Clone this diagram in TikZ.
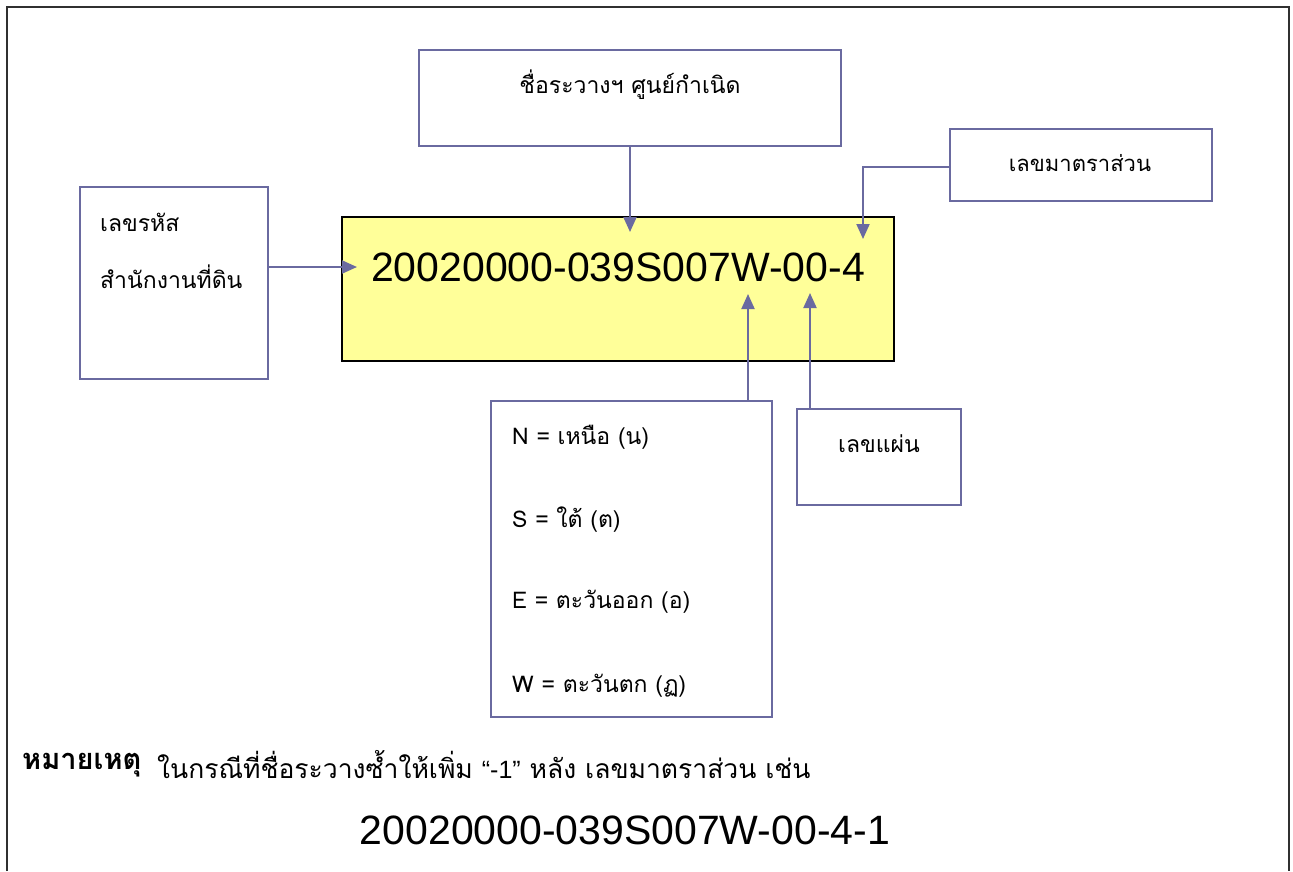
\documentclass[tikz,border=0pt]{standalone}
\usepackage{fontspec}
\setmainfont{Liberation Sans}
\newfontfamily\thaifont[Script=Thai]{Loma}
\usetikzlibrary{arrows.meta}
\definecolor{boxline}{HTML}{6A6AA0}
\definecolor{yell}{HTML}{FFFF99}
\definecolor{frame}{HTML}{303030}
\tikzset{
  box/.style={draw=boxline, line width=2pt, fill=white, inner sep=0pt},
  mainbox/.style={draw=black, line width=1.6pt, fill=yell, inner sep=0pt},
  conn/.style={draw=boxline, line width=2pt, -{Triangle[length=15pt,width=13pt]}},
  th/.style={font=\thaifont\fontsize{23}{27}\selectfont, inner sep=0pt},
  note/.style={font=\thaifont\fontsize{26.5}{30}\selectfont, inner sep=0pt},
  num/.style={font=\fontsize{41}{48}\selectfont, inner sep=0pt}
}
\begin{document}
\begin{tikzpicture}[x=1pt,y=-1pt]
\useasboundingbox (0,0) rectangle (1293,871);
\draw[frame, line width=2.5pt] (7,871) -- (7,7) -- (1289,7) -- (1289,871);

\node[box, minimum width=422pt, minimum height=96pt] (top) at (630,98) {};
\node[box, minimum width=262pt, minimum height=72pt] (scale) at (1081,165) {};
\node[box, minimum width=188pt, minimum height=192pt] (code) at (174,283) {};
\node[mainbox, minimum width=552pt, minimum height=144pt] (main) at (618,289) {};
\node[box, minimum width=281pt, minimum height=316pt] (dir) at (631.5,559) {};
\node[box, minimum width=164pt, minimum height=96pt] (sheet) at (879,457) {};

\node[th] (toptxt) at (630,85) {ชื่อระวางฯ ศูนย์กำเนิด};
\node[th, font=\thaifont\fontsize{22}{26}\selectfont] (scaletxt) at (1080,163) {เลขมาตราส่วน};
\node[th, anchor=west] (code1) at (100,222) {เลขรหัส};
\node[th, anchor=west] (code2) at (100,277) {สำนักงานที่ดิน};
\node[num] (mainnum) at (618,267) {20020000-039S007W-00-4};
\node[th, anchor=west] (dN) at (512,437) {N = เหนือ (น)};
\node[th, anchor=west] (dS) at (512,520) {S = ใต้ (ต)};
\node[th, anchor=west] (dE) at (512,602) {E = ตะวันออก (อ)};
\node[th, anchor=west] (dW) at (512,686) {W = ตะวันตก (ฏ)};
\node[th] (sheettxt) at (879,444) {เลขแผ่น};

\node[note, anchor=west, font=\thaifont\bfseries\fontsize{29}{33}\selectfont] (notehead) at (22,765) {หมายเหตุ};
\node[note, anchor=west] (notebody) at (157,765) {ในกรณีที่ชื่อระวางซ้ำให้เพิ่ม {\rmfamily\fontsize{25}{28}\selectfont “-1”} หลัง เลขมาตราส่วน เช่น};
\node[num] (example) at (625,830) {20020000-039S007W-00-4-1};

\coordinate (tipA) at (357,267);
\coordinate (tipB) at (630,232);
\coordinate (bendC) at (863,167);
\coordinate (tipC) at (863,239);
\coordinate (tipD) at (748,294);
\coordinate (tipE) at (810,293);

\draw[conn] (code.east |- tipA) -- (tipA);
\draw[conn] (top.south) -- (tipB);
\draw[conn] (scale.west |- bendC) -- (bendC) -- (tipC);
\draw[conn] (dir.north -| tipD) -- (tipD);
\draw[conn] (sheet.north -| tipE) -- (tipE);
\end{tikzpicture}
\end{document}
